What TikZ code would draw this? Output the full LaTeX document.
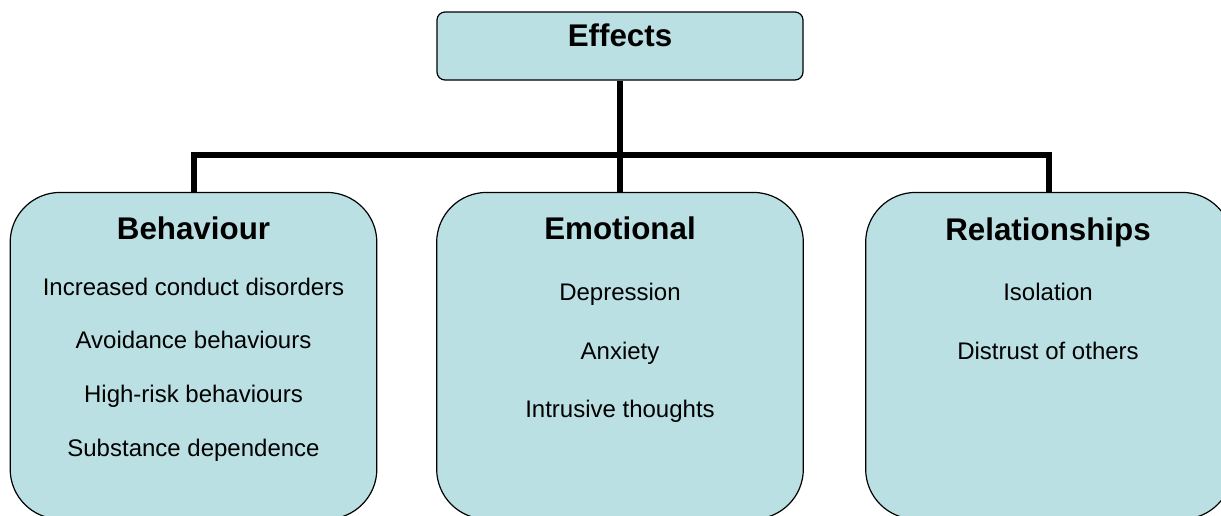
\documentclass[tikz,border=0pt]{standalone}
\usepackage{fontspec}
\setmainfont{Liberation Sans}
\usetikzlibrary{positioning}
\definecolor{boxblue}{HTML}{BBE0E3}
\tikzset{
  topbox/.style={draw=black, fill=boxblue, line width=0.9pt, rounded corners=6pt,
    minimum width=274.5pt, minimum height=51pt, inner sep=0pt},
  catbox/.style={draw=black, fill=boxblue, line width=0.9pt, rounded corners=37.5pt,
    minimum width=275pt, minimum height=245pt, inner sep=0pt},
  head/.style={font=\fontsize{23.5}{28}\selectfont\bfseries, anchor=base, inner sep=0pt},
  item/.style={font=\fontsize{18}{22}\selectfont, anchor=base, inner sep=0pt},
  link/.style={line width=4.5pt}
}
\begin{document}
\begin{tikzpicture}[x=0.75pt, y=-0.75pt]
		%%%%% FRAME %%%%%
		\useasboundingbox (0,0) rectangle (1221,515);
		
		%%%%% BOXES %%%%%
		\node[topbox] (effects) at (620,46) {};
		\node[catbox] (behav) at (193.5,355.75) {};
		\node[catbox] (emot) at (620,355.75) {};
		\node[catbox] (relat) at (1049,355.75) {};
		
		%%%%% LINKS %%%%%
		\coordinate (bar) at (620,155);
		\draw[link] (effects.south) -- (emot.north);
		\draw[link] (behav.north) |- (bar) -| (relat.north);
		
		%%%%% TEXT %%%%%
		\node[head] (effects-t) at (620,46) {Effects};
		
		\node[head] (behav-t) at (193.5,239) {Behaviour};
		\node[item] (behav-a) at (193.5,295) {Increased conduct disorders};
		\node[item] (behav-b) at (193.5,348.5) {Avoidance behaviours};
		\node[item] (behav-c) at (193.5,402.5) {High-risk behaviours};
		\node[item] (behav-d) at (193.5,456.5) {Substance dependence};
		
		\node[head] (emot-t) at (620,239) {Emotional};
		\node[item] (emot-a) at (620,300.5) {Depression};
		\node[item] (emot-b) at (620,359) {Anxiety};
		\node[item] (emot-c) at (620,417.5) {Intrusive thoughts};
		
		\node[head] (relat-t) at (1048,240) {Relationships};
		\node[item] (relat-a) at (1048,300) {Isolation};
		\node[item] (relat-b) at (1048,359) {Distrust of others};
\end{tikzpicture}
\end{document}
